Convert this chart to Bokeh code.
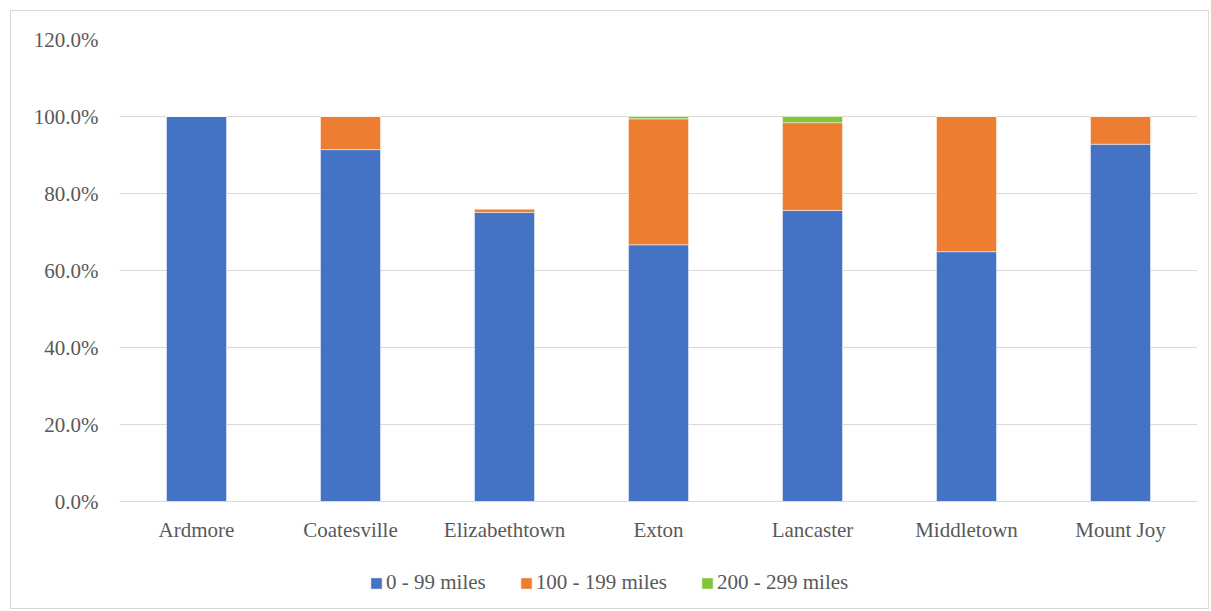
from bokeh.plotting import figure
from bokeh.models import ColumnDataSource, NumeralTickFormatter, Legend, LegendItem, FixedTicker
from bokeh.embed import file_html
from bokeh.resources import INLINE

sites = ["Ardmore", "Coatesville", "Elizabethtown", "Exton", "Lancaster", "Middletown", "Mount Joy"]
miles_0_99 = [1.000, 0.914, 0.751, 0.667, 0.756, 0.649, 0.928]
miles_100_199 = [0.000, 0.086, 0.009, 0.327, 0.228, 0.351, 0.072]
miles_200_299 = [0.000, 0.000, 0.000, 0.006, 0.016, 0.000, 0.000]
series = ["0 - 99 miles", "100 - 199 miles", "200 - 299 miles"]
colors = ["#4472C4", "#ED7D31", "#82C43C"]
y_ticks = [0, 0.2, 0.4, 0.6, 0.8, 1.0, 1.2]

src = ColumnDataSource(dict(site=sites, a=miles_0_99, b=miles_100_199, c=miles_200_299))

FONT = "Liberation Serif"
TXT = "#595959"

p = figure(x_range=sites, y_range=(-0.275, 1.2), frame_width=1078, frame_height=568,
           output_backend="svg", toolbar_location=None,
           min_border_left=108, min_border_right=11, min_border_top=28, min_border_bottom=1,
           margin=(10, 0, 0, 10), styles={"border": "1px solid #d9d9d9", "box-sizing": "border-box"})
p.outline_line_color = None

r = p.vbar_stack(["a", "b", "c"], x="site", width=0.39, color=colors, source=src,
                 line_color="white", line_width=0.5)

ticker = FixedTicker(ticks=y_ticks)
p.yaxis.ticker = ticker
p.ygrid.ticker = ticker
p.yaxis.formatter = NumeralTickFormatter(format="0.0%")
p.yaxis.axis_line_color = None
p.yaxis.major_tick_line_color = None
p.yaxis.minor_tick_line_color = None
p.xaxis.fixed_location = 0
p.xaxis.axis_line_color = "#d9d9d9"
p.xaxis.major_tick_line_color = None
p.xaxis.minor_tick_line_color = None
for ax in (p.xaxis, p.yaxis):
    ax.major_label_text_font = FONT
    ax.major_label_text_font_size = "21px"
    ax.major_label_text_color = TXT
p.yaxis.major_label_standoff = 15
p.xaxis.major_label_standoff = 10
p.xgrid.grid_line_color = None
p.ygrid.grid_line_color = "#d9d9d9"
p.ygrid.grid_line_width = 1

legend = Legend(items=[LegendItem(label=s, renderers=[rr]) for s, rr in zip(series, r)],
                orientation="horizontal", location=(250, 12),
                label_text_font=FONT, label_text_font_size="21px", label_text_color=TXT,
                glyph_width=14, glyph_height=14, spacing=33, label_standoff=3,
                border_line_color=None, background_fill_alpha=0, margin=0, padding=4)
p.add_layout(legend, "center")

open("out.html", "w").write(file_html(p, INLINE))
